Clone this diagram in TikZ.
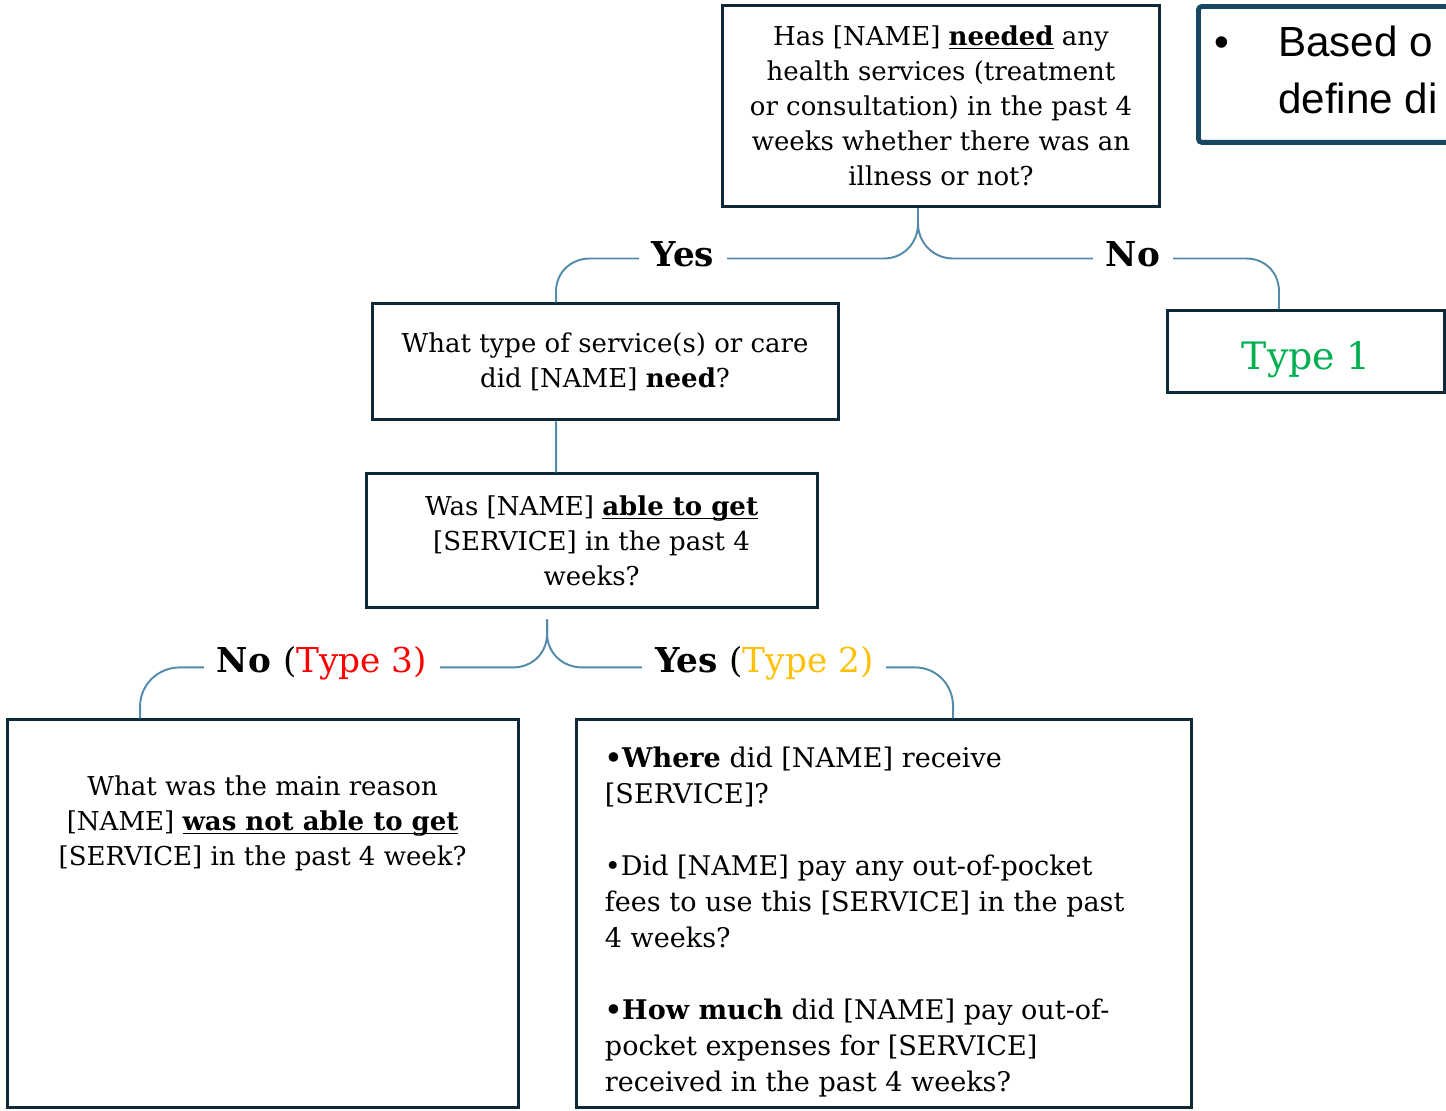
\documentclass[tikz,border=0pt]{standalone}
\usepackage{fontspec}
\setmainfont{DejaVu Serif}
\newfontfamily\notefont{Liberation Sans}
\usepackage{tikz}
\usetikzlibrary{positioning}

\definecolor{boxline}{RGB}{14,40,56}
\definecolor{linkline}{RGB}{84,139,170}
\definecolor{noteline}{RGB}{22,72,99}
\definecolor{typeone}{RGB}{0,176,80}
\definecolor{typetwo}{RGB}{255,192,0}
\definecolor{typethree}{RGB}{255,0,0}

\newcommand{\qsize}{\fontsize{14.8}{19.9}\selectfont}
\newcommand{\uln}[1]{\underline{\smash{#1}}}

\begin{document}
\begin{tikzpicture}[x=0.02cm, y=-0.02cm, node distance=5cm,
  qbox/.style={draw=boxline, line width=1.7pt, align=center, font=\qsize, inner sep=0pt},
  qtext/.style={align=center, font=\qsize, inner sep=0pt},
  link/.style={draw=linkline, line width=1.1pt},
  lbl/.style={fill=white, inner xsep=0.26cm, inner ysep=2pt, yshift=0.08cm, font=\fontsize{19.5}{22}\selectfont\bfseries}]
  \useasboundingbox (0,0) rectangle (1446,1110);
  \fill[white] (0,0) rectangle (1446,1110);

  \node [qbox, minimum width=8.76cm, minimum height=4.04cm] (q1) at (941,106) {Has [NAME] \uln{\textbf{needed}} any\\ health services (treatment\\ or consultation) in the past 4\\ weeks whether there was an\\ illness or not?};
  \node [qbox, minimum width=9.32cm, minimum height=2.32cm, below of=q1, xshift=-6.72cm, yshift=-0.12cm] (q2) {What type of service(s) or care\\ did [NAME] \textbf{need}?};
  \node [qbox, minimum width=5.54cm, minimum height=1.64cm, below of=q1, xshift=7.31cm, yshift=0.08cm, font=\fontsize{21.5}{24}\selectfont, text=typeone] (t1) {\raisebox{-0.36cm}[0pt][0pt]{Type 1}};
  \node [qbox, minimum width=9.02cm, minimum height=2.68cm, below of=q2, node distance=3.58cm, xshift=-0.27cm] (q3) {Was [NAME] \uln{\textbf{able to get}}\\{}[SERVICE] in the past 4\\ weeks?};
  \node [qbox, minimum width=10.22cm, minimum height=7.76cm, below of=q3, node distance=7.46cm, xshift=-6.58cm] (q4) {};
  \node [qbox, minimum width=12.32cm, minimum height=7.76cm, below of=q3, node distance=7.46cm, xshift=5.85cm] (q5) {};

  \node [qtext] (q4txt) at ([yshift=-2.1cm]q4.north) {What was the main reason\\{}[NAME] \uln{\textbf{was not able to get}}\\{}[SERVICE] in the past 4 week?};
  \node [qtext, align=left, anchor=north west, font=\fontsize{15.4}{20.5}\selectfont] (q5txt) at ([xshift=0.6cm, yshift=-0.56cm]q5.north west) {\textbf{•Where} did [NAME] receive\\{}[SERVICE]?\\[20.5pt]
    •Did [NAME] pay any out-of-pocket\\ fees to use this [SERVICE] in the past\\ 4 weeks?\\[20.5pt]
    \textbf{•How much} did [NAME] pay out-of-\\ pocket expenses for [SERVICE]\\ received in the past 4 weeks?};

  % first question splits
  \draw [link] ([xshift=-0.46cm]q1.south) -- ++(0,15) .. controls +(0,20) and +(19,0) .. ++(-34,35) -- node[lbl, pos=0.684] (yes1) {Yes} ++(-294,0) .. controls +(-19,0) and +(0,-19) .. ++(-34,33) -- ([xshift=-0.98cm]q2.north);
  \draw [link] ([xshift=-0.46cm]q1.south) -- ++(0,15) .. controls +(0,20) and +(-19,0) .. ++(35,35) -- node[lbl, pos=0.614] (no1) {No} ++(293,0) .. controls +(19,0) and +(0,-19) .. ++(33,33) -- ([xshift=-0.55cm]t1.north);

  \draw [link] ([xshift=-0.98cm]q2.south) -- ([xshift=-0.71cm]q3.north);

  % able to get?
  \draw [link] ([xshift=-0.89cm, yshift=-0.2cm]q3.south) -- ++(0,14) .. controls +(0,20) and +(19,0) .. ++(-34,34) -- node[lbl, pos=0.574] (no2) {No \textmd{(\textcolor{typethree}{Type 3)}}} ++(-333,0) .. controls +(-22,0) and +(0,-22) .. ++(-40,39) -- ([xshift=-2.45cm]q4.north);
  \draw [link] ([xshift=-0.89cm, yshift=-0.2cm]q3.south) -- ++(0,14) .. controls +(0,20) and +(-19,0) .. ++(35,34) -- node[lbl, pos=0.547] (yes2) {Yes \textmd{(\textcolor{typetwo}{Type 2)}}} ++(333,0) .. controls +(21,0) and +(0,-22) .. ++(38,39) -- ([xshift=1.38cm]q5.north);

  % note box at the edge
  \begin{scope}
    \clip (0,0) rectangle (1446,1110);
    \node [draw=noteline, line width=2.8pt, rounded corners=2pt, minimum width=10cm, minimum height=2.72cm, anchor=north west] (note) at (1196,4) {};
    \node [anchor=west, align=left, inner sep=0pt, font=\notefont\fontsize{24}{32}\selectfont] (notetxt) at (1214,70) {\makebox[1.28cm][l]{•}Based o\\\makebox[1.28cm]{}define di};
  \end{scope}
\end{tikzpicture}
\end{document}
